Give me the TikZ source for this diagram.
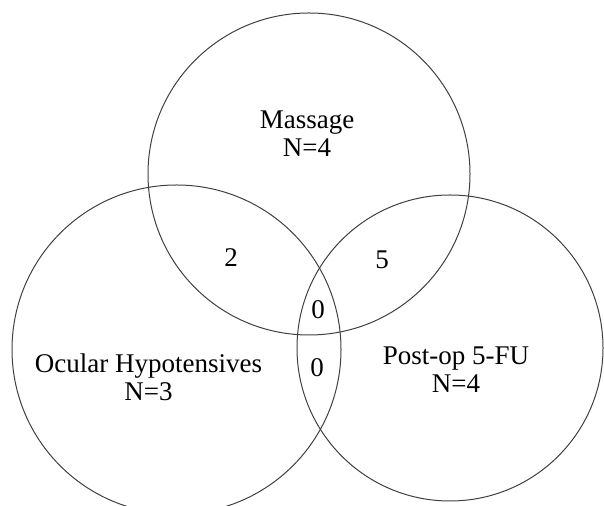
\documentclass[tikz,border=0pt]{standalone}
\usepackage{fontspec}
\setmainfont{Liberation Serif}
\usetikzlibrary{positioning}
\tikzset{
  setcircle/.style={draw=black!75, line width=0.5pt, circle, inner sep=0pt},
  lbl/.style={font=\fontsize{13.5}{14}\selectfont, align=center, inner sep=0pt},
}

\begin{document}
\begin{tikzpicture}[x=0.5pt,y=-0.5pt]
  \useasboundingbox (0,0) rectangle (604,506);
  \clip (0,0) rectangle (604,506);
  % the three sets
  \node[setcircle, minimum size=161pt] (massage) at (309,174) {};
  \node[setcircle, minimum size=164.5pt] (ocular) at (176.5,349.5) {};
  \node[setcircle, minimum size=153pt] (postop) at (450,348) {};
  % set labels
  \node[lbl] (massageText) at (307,134) {Massage\\N=4};
  \node[lbl] (ocularText) at (148.5,377) {Ocular Hypotensives\\N=3};
  \node[lbl] (postopText) at (456,370) {Post-op 5-FU\\N=4};
  % overlap counts
  \node[lbl] (nMassOcular) at (231,258) {2};
  \node[lbl] (nMassPostop) at (382,260) {5};
  \node[lbl] (nAll) at (318,310) {0};
  \node[lbl] (nOcularPostop) at (317,368) {0};
\end{tikzpicture}
\end{document}
